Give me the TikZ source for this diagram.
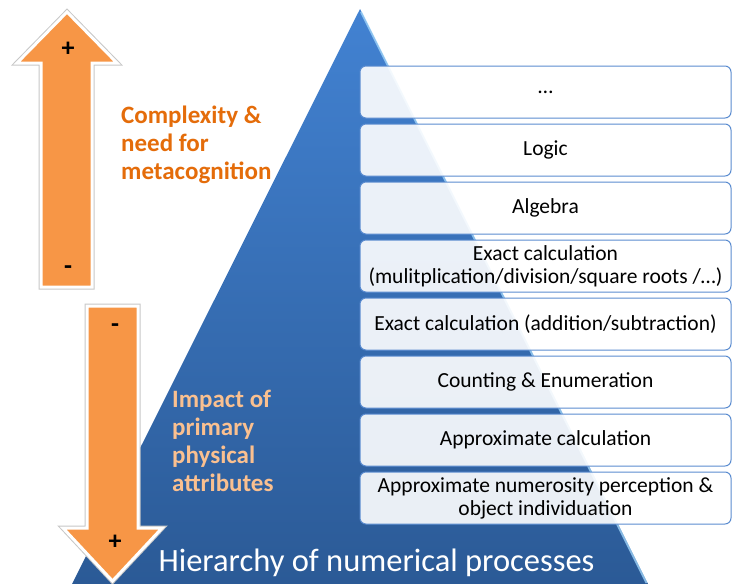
\documentclass[tikz,border=0pt]{standalone}
\usepackage{fontspec}
\setmainfont{Carlito}
\definecolor{orangeA}{HTML}{F79646}
\definecolor{orangeT}{HTML}{E46C0A}
\definecolor{peach}{HTML}{FAC090}
\definecolor{pyrTop}{HTML}{4282D2}
\definecolor{pyrBot}{HTML}{2B5A96}
\definecolor{boxline}{HTML}{5B8CD0}
\definecolor{edgehl}{HTML}{9ED2F7}
\begin{document}
\begin{tikzpicture}[x=1pt,y=-1pt,
  levelbox/.style={draw=boxline, line width=1pt, rounded corners=6pt, fill=white, fill opacity=0.9, text opacity=1,
    minimum width=371pt, minimum height=52pt, inner sep=0pt, align=center, font=\fontsize{21.5}{23}\selectfont},
  arrowhalo/.style={draw=black!22, line width=5pt, line join=miter},
  arrowbody/.style={fill=orangeA, draw=white, line width=3pt, line join=miter},
  sign/.style={font=\fontsize{26}{28}\selectfont\bfseries, inner sep=0pt, text=black},
  sidelabel/.style={anchor=base west, align=left, inner sep=0pt, font=\fontsize{25}{28}\selectfont\bfseries}
]
\useasboundingbox (0,0) rectangle (732,584);
% pyramid
\shade[top color=pyrTop, bottom color=pyrBot] (360,9) -- (648,584) -- (72,584) -- cycle;
\draw[edgehl, line width=2pt, opacity=0.8] (361,12) -- (646.5,583);
% level boxes
\node[levelbox] (b1) at (545.5,92) {…};
\node[levelbox] (b2) at (545.5,150) {Logic};
\node[levelbox] (b3) at (545.5,208) {Algebra};
\node[levelbox] (b4) at (545.5,266) {Exact calculation\\(mulitplication/division/square roots /…)};
\node[levelbox] (b5) at (545.5,324) {Exact calculation (addition/subtraction)};
\node[levelbox] (b6) at (545.5,382) {Counting \& Enumeration};
\node[levelbox] (b7) at (545.5,440) {Approximate calculation};
\node[levelbox] (b8) at (545.5,498) {Approximate numerosity perception \&\\object individuation};
% title
\node[anchor=base, inner sep=0pt, text=white, font=\fontsize{32.5}{34}\selectfont] (title) at (376.5,571) {Hierarchy of numerical processes};
% up arrow
\path[arrowhalo] (67,12) -- (117,63) -- (92,63) -- (92,287) -- (41,287) -- (41,63) -- (17,63) -- cycle;
\path[arrowbody] (67,12) -- (117,63) -- (92,63) -- (92,287) -- (41,287) -- (41,63) -- (17,63) -- cycle;
\node[sign] (upplus) at (68,49) {+};
\node[sign] (upminus) at (68,270) {-};
% down arrow
\path[arrowhalo] (87,306) -- (138,306) -- (138,528) -- (162,528) -- (112.5,581) -- (63,528) -- (87,528) -- cycle;
\path[arrowbody] (87,306) -- (138,306) -- (138,528) -- (162,528) -- (112.5,581) -- (63,528) -- (87,528) -- cycle;
\node[sign] (dnminus) at (115,328) {-};
\node[sign] (dnplus) at (115,542) {+};
% side labels (anchor = baseline of last line)
\node[sidelabel, text=orangeT] (complexity) at (121,179) {Complexity \&\\need for\\metacognition};
\node[sidelabel, text=peach] (impact) at (172,491) {Impact of\\primary\\physical\\attributes};
\end{tikzpicture}
\end{document}
